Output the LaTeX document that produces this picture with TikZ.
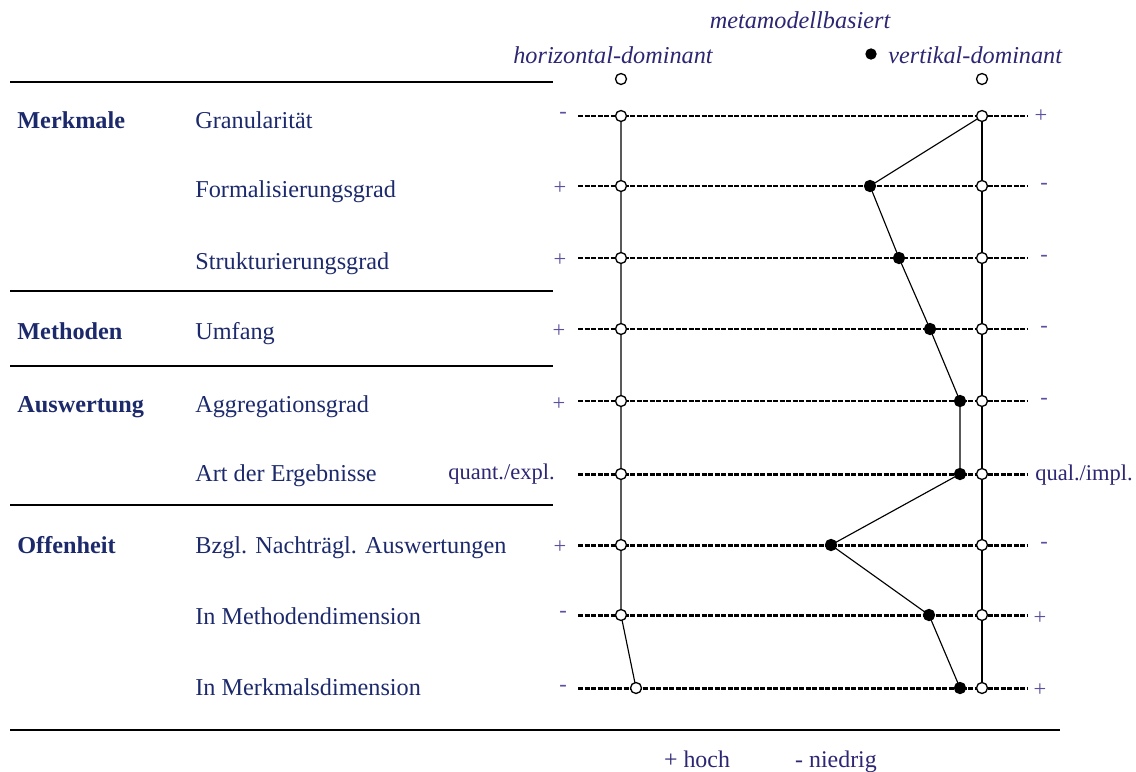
\documentclass[tikz,border=0pt]{standalone}
\usepackage{fontspec}
\setmainfont{Liberation Serif}
\begin{document}
\definecolor{labnavy}{HTML}{1C2A6C}
\definecolor{headpurple}{HTML}{2C2673}
\definecolor{signpurple}{HTML}{5A50A0}
\begin{tikzpicture}[x=0.02cm,y=-0.02cm,
  cat/.style={font=\fontsize{13.8}{16}\selectfont\bfseries,text=labnavy,anchor=base west,inner sep=0pt},
  item/.style={font=\fontsize{13.8}{16}\selectfont,text=labnavy,anchor=base west,inner sep=0pt},
  head/.style={font=\fontsize{13.8}{16}\selectfont\itshape,text=headpurple,anchor=base,inner sep=0pt},
  sign/.style={font=\fontsize{12.8}{15}\selectfont,text=signpurple,anchor=base,inner sep=0pt},
  endtext/.style={font=\fontsize{12.8}{15}\selectfont,text=headpurple,inner sep=0pt},
  rule/.style={line width=1.1pt,black},
  ratingline/.style={line width=1.7pt,black,dash pattern=on 2.9pt off 0.8pt},
  profile/.style={line width=0.65pt,black},
  open/.style={circle,draw=black,line width=0.75pt,fill=white,inner sep=0pt,minimum size=0.22cm},
  closed/.style={circle,draw=black,line width=0.75pt,fill=black,inner sep=0pt,minimum size=0.22cm}]
\useasboundingbox (0,0) rectangle (1136,771);

% column headings
\node[head] (hmeta) at (800,28) {metamodellbasiert};
\node[head] (hhor) at (613,63) {horizontal-dominant};
\node[head,anchor=base west] (hver) at (888,63) {vertikal-dominant};
\node[closed,minimum size=0.2cm] (hdot) at (871,54) {};
\node[open] (hleft) at (621,79) {};
\node[open] (hright) at (982,79) {};

% section rules
\draw[rule] (10,82) -- (553,82);
\draw[rule] (10,291) -- (553,291);
\draw[rule] (10,366) -- (553,366);
\draw[rule] (10,505) -- (553,505);
\draw[rule] (10,730) -- (1060,730);

% categories
\node[cat] (cmerk) at (17,128) {Merkmale};
\node[cat] (cmeth) at (17,339) {Methoden};
\node[cat] (caus) at (17,412) {Auswertung};
\node[cat] (coff) at (17,553) {Offenheit};

% criteria
\node[item] (i1) at (195,128) {Granularität};
\node[item] (i2) at (195,197) {Formalisierungsgrad};
\node[item] (i3) at (195,269) {Strukturierungsgrad};
\node[item] (i4) at (195,339) {Umfang};
\node[item] (i5) at (195,412) {Aggregationsgrad};
\node[item] (i6) at (195,481) {Art der Ergebnisse};
\node[item] (i7) at (195,553) {Bzgl. Nachträgl. Auswertungen};
\node[item] (i8) at (195,624) {In Methodendimension};
\node[item] (i9) at (195,695) {In Merkmalsdimension};

% scale end labels, left side
\node[sign] (sl1) at (563,118) {-};
\node[sign] (sl2) at (560,194) {+};
\node[sign] (sl3) at (560,266) {+};
\node[sign] (sl4) at (559,337) {+};
\node[sign] (sl5) at (559,410) {+};
\node[endtext,anchor=base east] (sl6) at (555,479) {quant./expl.};
\node[sign] (sl7) at (560,553) {+};
\node[sign] (sl8) at (563,617) {-};
\node[sign] (sl9) at (563,691) {-};

% scale end labels, right side
\node[sign] (sr1) at (1041,122) {+};
\node[sign] (sr2) at (1044,189) {-};
\node[sign] (sr3) at (1044,261) {-};
\node[sign] (sr4) at (1044,332) {-};
\node[sign] (sr5) at (1044,404) {-};
\node[endtext,anchor=base west] (sr6) at (1035,480) {qual./impl.};
\node[sign] (sr7) at (1044,548) {-};
\node[sign] (sr8) at (1040,624) {+};
\node[sign] (sr9) at (1040,696) {+};

% scale positions: start, end, horizontal-dominant, vertical-dominant, metamodel-based
\foreach \r/\y/\h/\m in {1/116/621/982, 2/186/621/870, 3/258/621/899, 4/329/621/930,
                         5/401/621/960, 6/474/621/960, 7/545/621/831, 8/615/621/929,
                         9/688/636/960}{
  \coordinate (a\r) at (578,\y);
  \coordinate (e\r) at (1028,\y);
  \coordinate (h\r) at (\h,\y);
  \coordinate (v\r) at (982,\y);
  \coordinate (m\r) at (\m,\y);
}

% rating scales
\foreach \r in {1,...,9}{ \draw[ratingline] (a\r) -- (e\r); }

% profiles
\draw[profile] (h1) -- (h2) -- (h3) -- (h4) -- (h5) -- (h6) -- (h7) -- (h8) -- (h9);
\draw[profile] (v1) -- (v2) -- (v3) -- (v4) -- (v5) -- (v6) -- (v7) -- (v8) -- (v9);
\draw[profile] (v1) -- (m2) -- (m3) -- (m4) -- (m5) -- (m6) -- (m7) -- (m8) -- (m9);

% profile markers
\foreach \r in {1,...,9}{
  \node[open] (ph\r) at (h\r) {};
  \node[open] (pv\r) at (v\r) {};
}
\foreach \r in {2,...,9}{ \node[closed] (pm\r) at (m\r) {}; }

% legend
\node[endtext,anchor=base] (lhoch) at (697,767) {\fontsize{13.6}{16}\selectfont + hoch};
\node[endtext,anchor=base] (lnied) at (836,767) {\fontsize{13.6}{16}\selectfont - niedrig};
\end{tikzpicture}
\end{document}
